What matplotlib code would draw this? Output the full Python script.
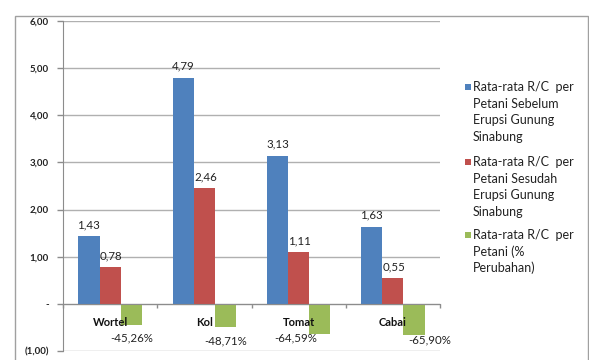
import matplotlib
matplotlib.use("Agg")
import matplotlib.pyplot as plt
import matplotlib.patches as mpatches
import numpy as np

categories = ["Wortel", "Kol", "Tomat", "Cabai"]
sebelum = [1.43, 4.79, 3.13, 1.63]
sesudah = [0.78, 2.46, 1.11, 0.55]
perubahan = [-0.4526, -0.4871, -0.6459, -0.6590]
series_names = ["Rata-rata R/C  per\nPetani Sebelum\nErupsi Gunung\nSinabung",
                "Rata-rata R/C  per\nPetani Sesudah\nErupsi Gunung\nSinabung",
                "Rata-rata R/C  per\nPetani (%\nPerubahan)"]
yticks = [-1, 0, 1, 2, 3, 4, 5, 6]
yticklabels = ["(1,00)", "-", "1,00", "2,00", "3,00", "4,00", "5,00", "6,00"]

colors = ["#4F81BD", "#C0504D", "#9BBB59"]
plt.rcParams['font.family'] = ['Lato', 'DejaVu Sans']

W, H = 589, 360
fig = plt.figure(figsize=(W / 100, H / 100), dpi=100)
ax = fig.add_axes([63 / W, 1 - 351 / H, (440 - 63) / W, (351 - 21) / H])

x = np.arange(len(categories))
w = 0.225
for i, (vals, c) in enumerate(zip([sebelum, sesudah, perubahan], colors)):
    ax.bar(x + (i - 1) * w, vals, w, color=c, zorder=3)

def fmt(v):
    return f"{v:.2f}".replace(".", ",")

px = 0.72  # points per pixel
for xi, v in zip(x - w, sebelum):
    ax.annotate(fmt(v), (xi, v), xytext=(0, 12 * px), textcoords="offset points",
                ha="center", va="center", fontsize=8.3, color="#222222")
for xi, v in zip(x, sesudah):
    ax.annotate(fmt(v), (xi, v), xytext=(1 * px, 11 * px), textcoords="offset points",
                ha="center", va="center", fontsize=8.3, color="#222222")
green_offsets = [(0, -13), (0, -14), (-24, -4), (16, -5)]
for xi, v, off in zip(x + w, perubahan, green_offsets):
    ax.annotate(f"{v*100:.2f}%".replace(".", ","), (xi, v),
                xytext=(off[0] * px, off[1] * px),
                textcoords="offset points", ha="center", va="center",
                fontsize=8.3, color="#222222")

for xi, c in zip(x, categories):
    ax.text(xi, -0.39, c, ha="center", va="center", fontsize=8,
            fontweight="bold", color="#111111", zorder=5)

ax.set_xlim(-0.5, len(categories) - 0.5)
ax.set_ylim(-1, 6)
ax.set_yticks(yticks)
ax.set_yticklabels(yticklabels, fontsize=7, fontweight="bold", color="#222222")
ax.yaxis.grid(True, color="#B0B0B0", linewidth=1.0, zorder=0)
ax.tick_params(axis="y", length=4.3, color="#8C8C8C", width=1, pad=5.8)

ax.set_xticks(np.arange(-0.5, len(categories), 1.0))
ax.set_xticklabels([])
ax.tick_params(axis="x", length=3, color="#8C8C8C", width=1, direction="out")
ax.spines["bottom"].set_position(("data", 0))
ax.spines["bottom"].set_color("#8C8C8C")
ax.spines["bottom"].set_zorder(4)
ax.spines["left"].set_color("#8C8C8C")
ax.spines["top"].set_visible(False)
ax.spines["right"].set_visible(False)

# legend drawn manually (marker aligned with first line, as in the reference)
entry_top = [87, 162, 235]
line_step = 16.6
for name, c, y0 in zip(series_names, colors, entry_top):
    fig.patches.append(mpatches.Rectangle((465 / W, 1 - (y0 + 3) / H), 6 / W, 6 / H,
                                          transform=fig.transFigure, facecolor=c,
                                          edgecolor="none"))
    for k, line in enumerate(name.split("\n")):
        fig.text(473 / W, 1 - (y0 + k * line_step) / H, line, ha="left",
                 va="center", fontsize=9, color="#222222")

fig.patches.append(mpatches.Rectangle((15 / W, -0.05), (588 - 15) / W,
                                      (352 - 8) / H + 0.05,
                                      transform=fig.transFigure, fill=False,
                                      edgecolor="#A0A0A0", linewidth=1.0))

fig.savefig("out.png", dpi=100)
